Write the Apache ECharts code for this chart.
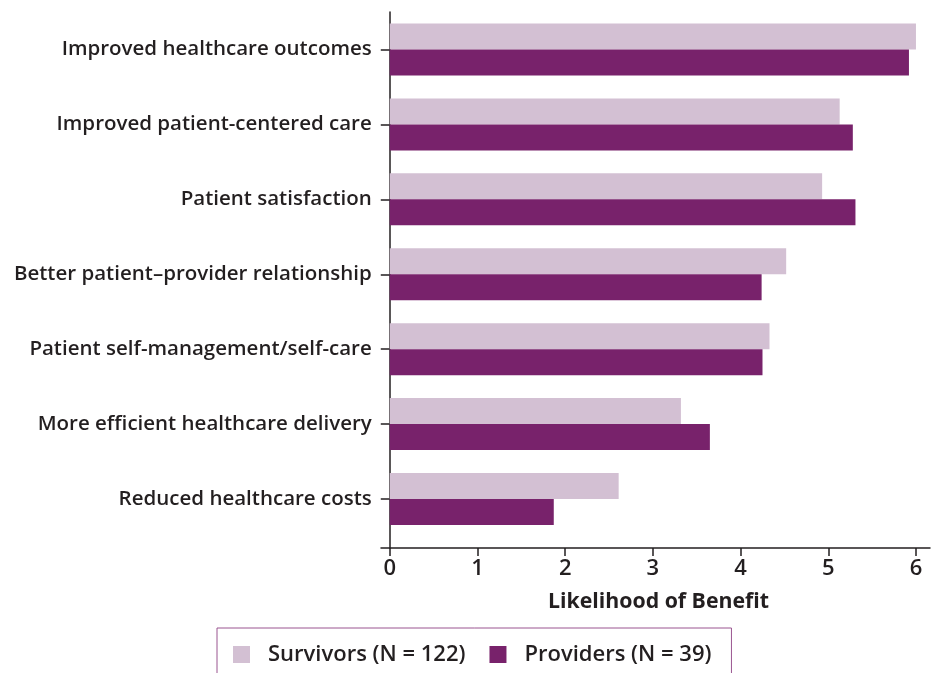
<!DOCTYPE html>
<html><head><meta charset="utf-8">
<script src="https://cdn.jsdelivr.net/npm/echarts@6/dist/echarts.min.js"></script>
<style>html,body{margin:0;padding:0;background:#fff}#c{width:931px;height:673px}</style>
</head><body><div id="c"></div>
<script>
const categories = [
  'Improved healthcare outcomes',
  'Improved patient-centered care',
  'Patient satisfaction',
  'Better patient\u2013provider relationship',
  'Patient self-management/self-care',
  'More efficient healthcare delivery',
  'Reduced healthcare costs'
];
const survivors = [6.00, 5.13, 4.93, 4.52, 4.33, 3.32, 2.61];
const providers = [5.92, 5.28, 5.31, 4.24, 4.25, 3.65, 1.87];
const xTicks = [0, 1, 2, 3, 4, 5, 6];
const seriesNames = ['Survivors (N = 122)', 'Providers (N = 39)'];

const font = '"Open Sans", Arial, sans-serif';
const txt = '#231f20';
const axisCol = '#231f20';
const chart = echarts.init(document.getElementById('c'));
chart.setOption({
  animation: false,
  textStyle: { fontFamily: font },
  grid: [
    { left: 381, right: 1, top: 12, bottom: 136.5, containLabel: false },
    { left: 381, right: 1, top: 12, bottom: 125, containLabel: false }
  ],
  xAxis: [
    { gridIndex: 0, type: 'value', min: -0.1, max: 6.16, show: false },
    {
      gridIndex: 1, type: 'value', min: -0.1, max: 6.16,
      name: 'Likelihood of Benefit', nameLocation: 'middle', nameGap: 43,
      nameTextStyle: { fontFamily: font, fontSize: 21.3, fontWeight: 'bold', color: txt, padding: [0, 0, 0, 6] },
      axisLine: { show: true, onZero: false, lineStyle: { color: axisCol, width: 1.5 } },
      axisTick: { show: true, length: 8, customValues: xTicks, lineStyle: { color: axisCol, width: 1.5 } },
      axisLabel: { customValues: xTicks, fontSize: 22, fontWeight: 600, color: txt, margin: 10, fontFamily: font },
      splitLine: { show: false }
    }
  ],
  yAxis: [
    {
      gridIndex: 0, type: 'category', inverse: true, data: categories,
      offset: -8.77,
      axisLine: { show: false, onZero: false },
      axisTick: { show: true, length: 9, alignWithLabel: true, lineStyle: { color: axisCol, width: 1.5 } },
      axisLabel: { fontSize: 20.5, fontWeight: 600, color: txt, margin: 18, fontFamily: font },
      splitLine: { show: false }
    },
    {
      gridIndex: 1, type: 'value', min: 0, max: 1,
      axisLine: { show: true, onZero: true, lineStyle: { color: axisCol, width: 1.5 } },
      axisTick: { show: false }, axisLabel: { show: false }, splitLine: { show: false }
    }
  ],
  legend: {
    left: 217, top: 628,
    padding: [15.5, 20, 40, 16],
    borderColor: '#9a5590', borderWidth: 1,
    itemWidth: 17, itemHeight: 17, itemGap: 24,
    icon: 'rect',
    textStyle: { fontFamily: font, fontSize: 22, fontWeight: 600, color: txt, padding: [0, 0, 0, 13] },
    data: seriesNames
  },
  series: [
    {
      name: seriesNames[0], type: 'bar', xAxisIndex: 0, yAxisIndex: 0,
      barWidth: 26, barGap: '0%',
      itemStyle: { color: '#d3c0d3' },
      data: survivors
    },
    {
      name: seriesNames[1], type: 'bar', xAxisIndex: 0, yAxisIndex: 0,
      barWidth: 26, barGap: '0%',
      itemStyle: { color: '#78226b' },
      data: providers
    }
  ]
});
</script></body></html>
